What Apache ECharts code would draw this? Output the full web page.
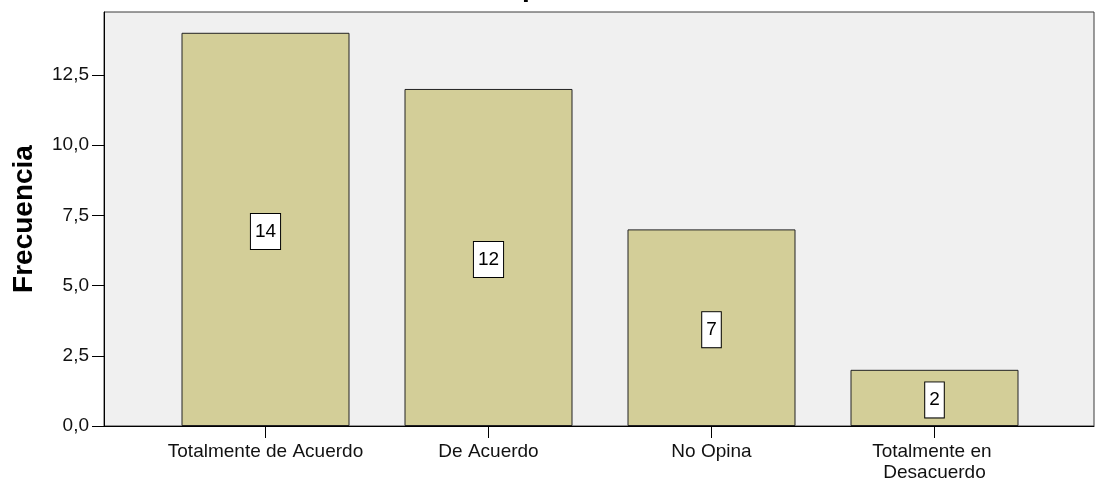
<!DOCTYPE html>
<html>
<head>
<meta charset="utf-8">
<script src="https://cdn.jsdelivr.net/npm/echarts@6/dist/echarts.min.js"></script>
<style>
  html, body { margin: 0; padding: 0; background: #fff; }
  #chart { width: 1095px; height: 482px; }
</style>
</head>
<body>
<div id="chart"></div>
<script>
// Response categories and their frequencies
const categories = ['Totalmente de Acuerdo', 'De Acuerdo', 'No Opina', 'Totalmente en Desacuerdo'];
const frecuencias = [14, 12, 7, 2];
// Value-axis tick positions
const yTicks = [0, 2.5, 5, 7.5, 10, 12.5];
const yMax = 14.74;

const FONT = "'Liberation Sans', Arial, sans-serif";
const chart = echarts.init(document.getElementById('chart'), null, { renderer: 'canvas' });

const option = {
  animation: false,
  backgroundColor: '#ffffff',
  graphic: [{
    // descender of the heading cut off at the top edge
    type: 'text',
    left: 522,
    top: -26,
    style: { text: 'p', font: 'bold 28px ' + FONT, fill: '#000' },
    silent: true
  }],
  grid: [
    // framed plot area
    { left: 104, right: 1, top: 12, bottom: 56, outerBoundsMode: 'none',
      show: true, backgroundColor: '#f0f0f0', borderColor: '#3a3a3a', borderWidth: 1 },
    // bar area, inset inside the frame
    { left: 154, right: 49, top: 12, bottom: 56, outerBoundsMode: 'none' }
  ],
  xAxis: [
    {
      gridIndex: 0, type: 'value', min: 0, max: 1,
      axisLine: { show: true, lineStyle: { color: '#000', width: 1 } },
      axisTick: { show: false }, axisLabel: { show: false }, splitLine: { show: false }
    },
    {
      gridIndex: 1, type: 'category', data: categories,
      axisLine: { show: false },
      axisTick: { show: true, alignWithLabel: true, length: 12, lineStyle: { color: '#000', width: 1 } },
      axisLabel: {
        interval: 0, margin: 15, fontFamily: FONT, fontSize: 19, color: '#111',
        width: 210, overflow: 'break', lineHeight: 21
      },
      splitLine: { show: false }
    }
  ],
  yAxis: [
    {
      gridIndex: 0, type: 'value', min: 0, max: yMax,
      name: 'Frecuencia', nameLocation: 'middle', nameGap: 66, nameRotate: 90,
      nameTextStyle: { fontFamily: FONT, fontSize: 28, fontWeight: 'bold', color: '#000' },
      axisLine: { show: true, lineStyle: { color: '#000', width: 1 } },
      axisTick: { show: true, length: 12, customValues: yTicks, lineStyle: { color: '#000', width: 1 } },
      axisLabel: {
        customValues: yTicks, margin: 15, fontFamily: FONT, fontSize: 19, color: '#111',
        formatter: v => v.toFixed(1).replace('.', ',')
      },
      splitLine: { show: false }
    },
    {
      gridIndex: 1, type: 'value', min: 0, max: yMax, show: false,
      splitLine: { show: false }
    }
  ],
  series: [{
    type: 'bar',
    xAxisIndex: 1, yAxisIndex: 1,
    data: frecuencias,
    barWidth: 168,
    itemStyle: { color: '#d3ce98', borderColor: '#222', borderWidth: 1 },
    label: {
      show: true, position: 'inside', offset: [0, 2],
      formatter: '{c}', fontFamily: FONT, fontSize: 19, lineHeight: 19, color: '#000',
      backgroundColor: '#ffffff', borderColor: '#000', borderWidth: 1,
      padding: [8, 4, 8, 4]
    }
  }]
};

chart.setOption(option);
</script>
</body>
</html>
